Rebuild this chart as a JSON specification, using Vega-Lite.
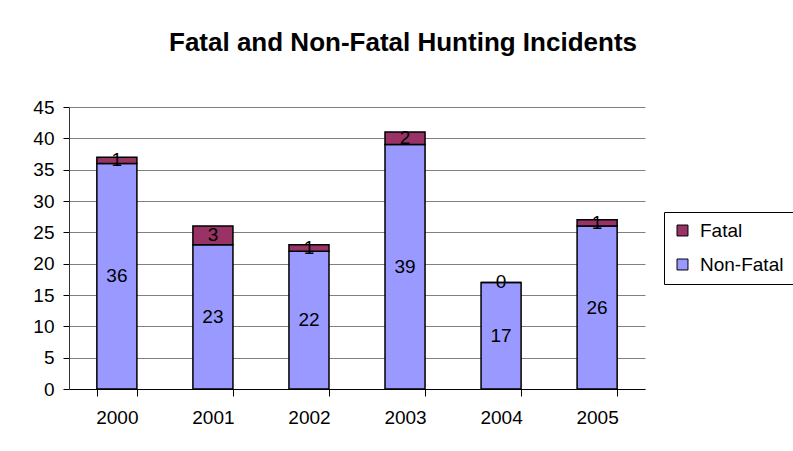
{
  "$schema": "https://vega.github.io/schema/vega-lite/v6.json",
  "autosize": {"type": "none"},
  "width": 576,
  "height": 282,
  "padding": {"left": 69, "top": 107, "right": 148, "bottom": 62},
  "background": "white",
  "title": {
    "text": "Fatal and Non-Fatal Hunting Incidents",
    "font": "Liberation Sans",
    "fontSize": 26,
    "fontWeight": "bold",
    "color": "black",
    "anchor": "middle",
    "dx": 46,
    "offset": 42
  },
  "data": {
    "values": [
      {"year": "2000", "type": "Non-Fatal", "count": 36},
      {"year": "2000", "type": "Fatal", "count": 1},
      {"year": "2001", "type": "Non-Fatal", "count": 23},
      {"year": "2001", "type": "Fatal", "count": 3},
      {"year": "2002", "type": "Non-Fatal", "count": 22},
      {"year": "2002", "type": "Fatal", "count": 1},
      {"year": "2003", "type": "Non-Fatal", "count": 39},
      {"year": "2003", "type": "Fatal", "count": 2},
      {"year": "2004", "type": "Non-Fatal", "count": 17},
      {"year": "2004", "type": "Fatal", "count": 0},
      {"year": "2005", "type": "Non-Fatal", "count": 26},
      {"year": "2005", "type": "Fatal", "count": 1}
    ]
  },
  "transform": [
    {"stack": "count", "groupby": ["year"], "as": ["y0", "y1"], "sort": [{"field": "type", "order": "descending"}]},
    {"calculate": "(datum.y0 + datum.y1) / 2", "as": "ymid"}
  ],
  "encoding": {
    "x": {
      "field": "year",
      "type": "ordinal",
      "title": null,
      "scale": {"paddingInner": 0.583, "paddingOuter": 0.29},
      "axis": {
        "labelAngle": 0,
        "labelFont": "Liberation Sans",
        "labelFontSize": 19,
        "labelColor": "black",
        "tickBand": "extent",
        "tickSize": 7,
        "tickColor": "black",
        "domainColor": "black",
        "labelPadding": 12,
        "grid": false
      }
    }
  },
  "layer": [
    {
      "mark": {"type": "bar", "stroke": "black", "strokeWidth": 1.5},
      "encoding": {
        "y": {
          "field": "y0",
          "type": "quantitative",
          "title": null,
          "scale": {"domain": [0, 45]},
          "axis": {
            "values": [0, 5, 10, 15, 20, 25, 30, 35, 40, 45],
            "labelOverlap": false,
            "labelFont": "Liberation Sans",
            "labelFontSize": 19,
            "labelColor": "black",
            "tickSize": 6,
            "tickColor": "black",
            "domainColor": "#333333",
            "grid": true,
            "gridColor": "#808080",
            "gridOpacity": 1,
            "labelPadding": 9
          }
        },
        "y2": {"field": "y1"},
        "color": {
          "field": "type",
          "type": "nominal",
          "scale": {"domain": ["Fatal", "Non-Fatal"], "range": ["#993366", "#9999FF"]},
          "legend": {
            "title": null,
            "orient": "none",
            "legendX": 595,
            "legendY": 105,
            "strokeColor": "black",
            "padding": 9,
            "labelFont": "Liberation Sans",
            "labelFontSize": 19,
            "labelColor": "black",
            "symbolType": "square",
            "symbolSize": 120,
            "symbolStrokeColor": "black",
            "symbolStrokeWidth": 1,
            "symbolOpacity": 1,
            "rowPadding": 14,
            "labelOffset": 8
          }
        }
      }
    },
    {
      "mark": {"type": "text", "font": "Liberation Sans", "fontSize": 19, "color": "black", "baseline": "middle"},
      "encoding": {
        "y": {
          "field": "ymid",
          "type": "quantitative",
          "title": null,
          "scale": {"domain": [0, 45]},
          "axis": {
            "values": [0, 5, 10, 15, 20, 25, 30, 35, 40, 45],
            "labelOverlap": false,
            "labelFont": "Liberation Sans",
            "labelFontSize": 19,
            "labelColor": "black",
            "tickSize": 6,
            "tickColor": "black",
            "domainColor": "#333333",
            "grid": true,
            "gridColor": "#808080",
            "gridOpacity": 1,
            "labelPadding": 9
          }
        },
        "text": {"field": "count", "type": "quantitative"}
      }
    }
  ],
  "config": {
    "view": {"stroke": null}
  }
}
